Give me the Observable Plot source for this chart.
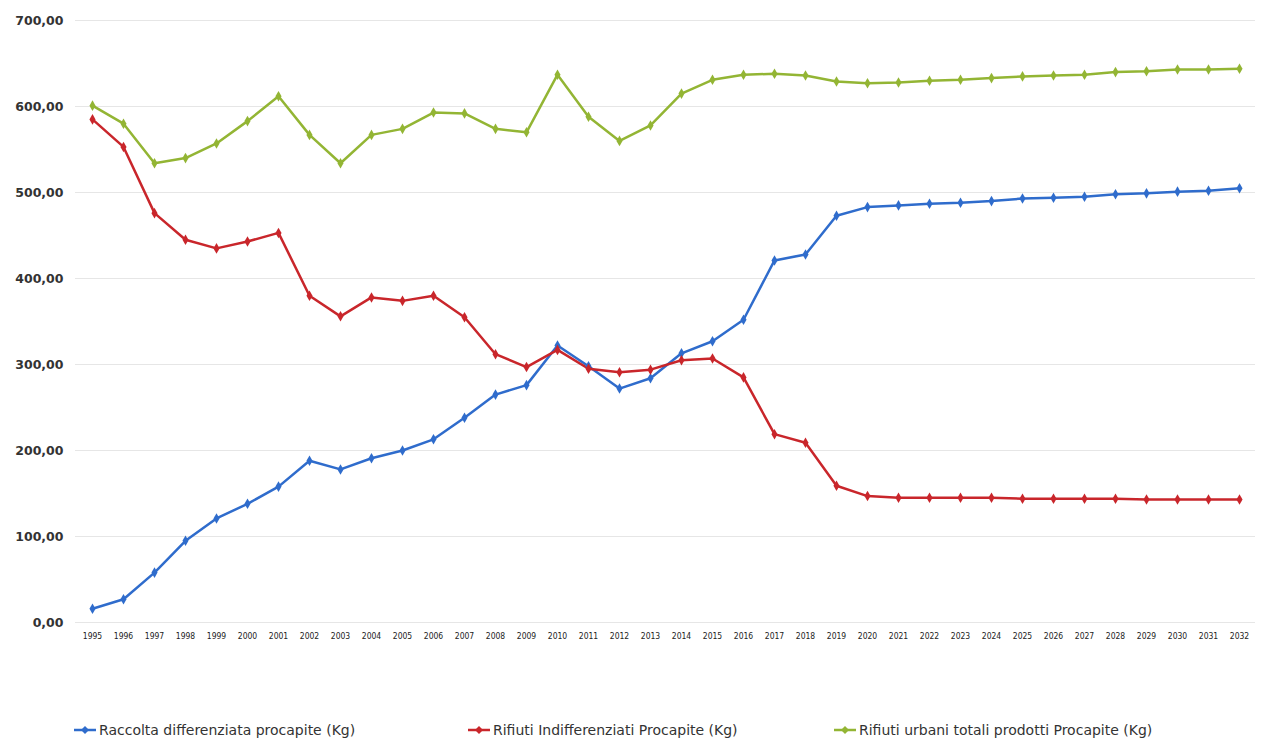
<!DOCTYPE html>
<html>
<head>
<meta charset="utf-8">
<script src="https://cdn.jsdelivr.net/npm/d3@7"></script>
<script src="https://cdn.jsdelivr.net/npm/@observablehq/plot@0.6"></script>
<style>
  body { margin: 0; background: #fff; font-family: "DejaVu Sans", sans-serif; }
  #wrap { position: relative; width: 1269px; height: 740px; }
  #legend { position: absolute; left: 0; top: 722px; width: 1269px; height: 20px; }
  .item { position: absolute; top: 0; display: flex; align-items: center; font-family: "DejaVu Sans", sans-serif; font-size: 14px; color: #333; white-space: nowrap; }
  .item svg { margin-right: 2px; }
</style>
</head>
<body>
<div id="wrap"><div id="chart"></div><div id="legend"></div></div>
<script>
const years = d3.range(1995, 2033).map(String);
const seriesNames = [
  "Raccolta differenziata procapite (Kg)",
  "Rifiuti Indifferenziati Procapite (Kg)",
  "Rifiuti urbani totali prodotti Procapite (Kg)"
];
const seriesColors = ["#2f6ccc", "#c9262b", "#93b534"];
const raccolta = [16, 27, 58, 95, 121, 138, 158, 188, 178, 191, 200, 213, 238, 265, 276, 322, 298, 272, 284, 313, 327, 352, 421, 428, 473, 483, 485, 487, 488, 490, 493, 494, 495, 498, 499, 501, 502, 505];
const indifferenziati = [585, 553, 476, 445, 435, 443, 453, 380, 356, 378, 374, 380, 355, 312, 297, 317, 295, 291, 294, 305, 307, 285, 219, 209, 159, 147, 145, 145, 145, 145, 144, 144, 144, 144, 143, 143, 143, 143];
const totali = [601, 580, 534, 540, 557, 583, 612, 567, 534, 567, 574, 593, 592, 574, 570, 637, 588, 560, 578, 615, 631, 637, 638, 636, 629, 627, 628, 630, 631, 633, 635, 636, 637, 640, 641, 643, 643, 644];
const yTicks = [0, 100, 200, 300, 400, 500, 600, 700];

const valuesBySeries = [raccolta, indifferenziati, totali];
const data = [];
seriesNames.forEach((s, i) => years.forEach((y, j) => data.push({serie: s, anno: y, valore: valuesBySeries[i][j]})));

const fmt = d => d.toFixed(2).replace(".", ",");

const chart = Plot.plot({
  width: 1269,
  height: 660,
  marginLeft: 75,
  marginRight: 14,
  marginTop: 20,
  marginBottom: 38,
  style: {fontFamily: "DejaVu Sans, sans-serif", color: "#333", background: "#fff"},
  x: {type: "point", domain: years, padding: 0.5, label: null},
  y: {domain: [0, 700], label: null},
  color: {domain: seriesNames, range: seriesColors},
  marks: [
    Plot.gridY(yTicks, {stroke: "#e6e6e6", strokeOpacity: 1, strokeWidth: 1}),
    Plot.axisY(yTicks, {tickSize: 0, tickPadding: 12, tickFormat: fmt, fontSize: 12.5, fill: "#333", fontWeight: "bold", label: null}),
    Plot.axisX({tickSize: 0, tickPadding: 10, fontSize: 8.5, fill: "#222", fontFamily: "DejaVu Sans Condensed, DejaVu Sans, sans-serif", label: null}),
    Plot.line(data, {x: "anno", y: "valore", z: "serie", stroke: "serie", strokeWidth: 2.5}),
    Plot.dot(data, {x: "anno", y: "valore", fill: "serie", symbol: "diamond", r: 3.2})
  ]
});
document.getElementById("chart").appendChild(chart);

const legendLefts = [73, 467, 833];
const legend = document.getElementById("legend");
seriesNames.forEach((s, i) => {
  const it = document.createElement("div");
  it.className = "item";
  it.style.left = legendLefts[i] + "px";
  const c = seriesColors[i];
  it.innerHTML = `<svg width="24" height="14"><line x1="1" y1="7" x2="23" y2="7" stroke="${c}" stroke-width="2.5"/><path d="M12 3 L16 7 L12 11 L8 7 Z" fill="${c}"/></svg><span>${s}</span>`;
  legend.appendChild(it);
});
</script>
</body>
</html>
